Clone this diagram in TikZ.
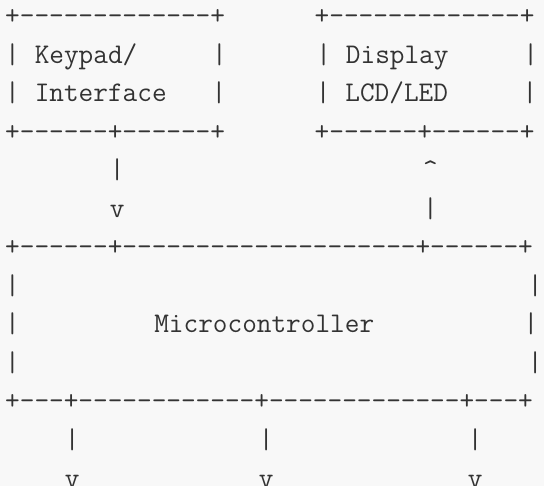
\documentclass[tikz,border=0pt]{standalone}
\definecolor{paper}{HTML}{F8F8F8}
\definecolor{ink}{HTML}{333333}
% one character cell of the monospaced grid
\newlength\charw
\setlength\charw{14.94pt}
% a run of dashes, each one kept apart so no ligature forms
\newcommand\dashrun[1]{\foreach\k in {1,...,#1}{-}}
% a run of blank cells
\newcommand\blank[1]{\hspace*{#1\charw}}
\begin{document}
\begin{tikzpicture}[x=1pt,y=-1pt,
  row/.style={anchor=base west, inner sep=0pt, outer sep=0pt, text=ink,
    font=\ttfamily\fontsize{28.46}{38.5}\selectfont}]
\fill[paper] (0,0) rectangle (544,486);
\useasboundingbox (0,0) rectangle (544,486);
\def\lx{5.2}
\def\dy{38.5}
% keypad and display boxes
\node[row] (r1) at (\lx,25+0*\dy) {+\dashrun{13}+\blank{6}+\dashrun{13}+};
\node[row] (r2) at (\lx,25+1*\dy) {|\blank{1}Keypad/\blank{5}|\blank{6}|\blank{1}Display\blank{5}|};
\node[row] (r3) at (\lx,25+2*\dy) {|\blank{1}Interface\blank{3}|\blank{6}|\blank{1}LCD/LED\blank{5}|};
\node[row] (r4) at (\lx,25+3*\dy) {+\dashrun{6}+\dashrun{6}+\blank{6}+\dashrun{6}+\dashrun{6}+};
% links to the microcontroller
\node[row] (r5) at (\lx,25+4*\dy) {\blank{7}|\blank{20}\textasciicircum};
\node[row] (r6) at (\lx,25+5*\dy) {\blank{7}v\blank{20}|};
% microcontroller block
\node[row] (r7) at (\lx,25+6*\dy) {+\dashrun{6}+\dashrun{20}+\dashrun{6}+};
\node[row] (r8) at (\lx,25+7*\dy) {|\blank{34}|};
\node[row] (r9) at (\lx,25+8*\dy) {|\blank{9}Microcontroller\blank{10}|};
\node[row] (r10) at (\lx,25+9*\dy) {|\blank{34}|};
\node[row] (r11) at (\lx,25+10*\dy) {+\dashrun{3}+\dashrun{12}+\dashrun{13}+\dashrun{3}+};
% outputs
\node[row] (r12) at (\lx,25+11*\dy) {\blank{4}|\blank{12}|\blank{13}|};
\node[row] (r13) at (\lx,25+12*\dy) {\blank{4}v\blank{12}v\blank{13}v};
\end{tikzpicture}
\end{document}
